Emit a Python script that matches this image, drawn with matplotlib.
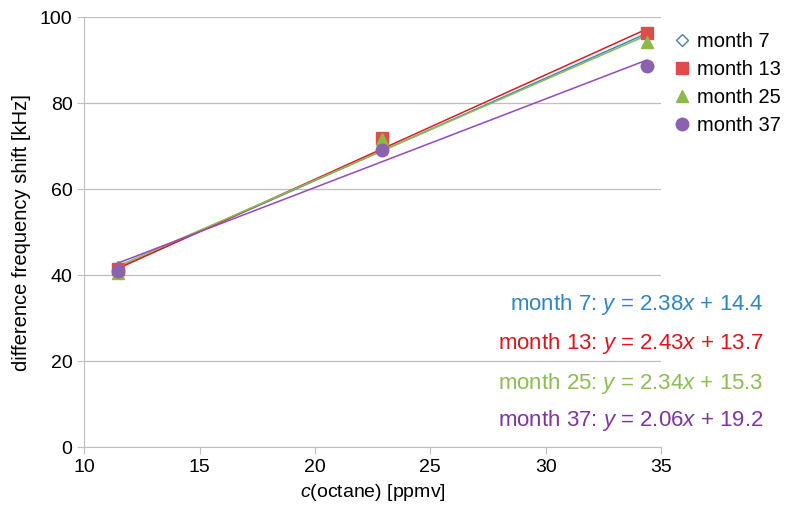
import numpy as np
import matplotlib
matplotlib.use("Agg")
from matplotlib import pyplot as plt

plt.rcParams['font.family'] = ['Liberation Sans', 'DejaVu Sans']
plt.rcParams['mathtext.fontset'] = 'custom'
plt.rcParams['mathtext.rm'] = 'Liberation Sans'
plt.rcParams['mathtext.it'] = 'Liberation Sans:italic'

conc = [11.46, 22.92, 34.38]
labels = ['month 7', 'month 13', 'month 25', 'month 37']
month7 = [41.8, 69.2, 95.9]
month13 = [41.4, 71.8, 96.3]
month25 = [40.5, 71.6, 94.3]
month37 = [41.0, 69.0, 88.6]
slopes = [2.38, 2.43, 2.34, 2.06]
intercepts = [14.4, 13.7, 15.3, 19.2]

marker_colors = ['#4A7EBB', '#E04B4B', '#8DB847', '#8A62AD']
line_colors = ['#3E86C6', '#E31A1C', '#8CBD4F', '#9448C0']
text_colors = ['#2E86C1', '#E0141B', '#8CBD4F', '#7E34A6']
markers = ['D', 's', '^', 'o']
sizes = [6, 8, 9, 9]

fig = plt.figure(figsize=(7.87, 5.2), dpi=100)
ax = fig.add_axes([0.107, 0.140, 0.733, 0.827])

series = [month7, month13, month25, month37]
for i in range(4):
    xs = np.array([min(conc), max(conc)])
    ax.plot(xs, slopes[i] * xs + intercepts[i], color=line_colors[i], lw=1.1, zorder=2)
for i in range(4):
    if i == 0:
        ax.plot(conc, series[i], ls='none', marker=markers[i], ms=sizes[i],
                mfc='white', mec=marker_colors[i], mew=1.0, label=labels[i], zorder=3)
    else:
        ax.plot(conc, series[i], ls='none', marker=markers[i], ms=sizes[i],
                color=marker_colors[i], mec=marker_colors[i], label=labels[i], zorder=3)

ax.set_xlim(10, 35)
ax.set_ylim(0, 100)
ax.set_xticks([10, 15, 20, 25, 30, 35])
ax.set_yticks([0, 20, 40, 60, 80, 100])
ax.yaxis.grid(True, color='#BFBFBF', lw=0.9)
ax.set_axisbelow(True)
for s in ['top', 'right']:
    ax.spines[s].set_visible(False)
for s in ['left', 'bottom']:
    ax.spines[s].set_color('#BFBFBF')
ax.tick_params(axis='both', colors='#BFBFBF', labelcolor='black', labelsize=14, length=5)
ax.set_xlabel('$c$(octane) [ppmv]', fontsize=14)
ax.set_ylabel('difference frequency shift [kHz]', fontsize=14.5, labelpad=6)

ax.legend(loc='upper left', bbox_to_anchor=(0.993, 0.998), frameon=False, fontsize=14.5,
          handletextpad=0.2, labelspacing=0.45, handlelength=1.1, borderaxespad=0.3)

ys = [0.415, 0.340, 0.263, 0.192]
for i in range(4):
    fig.text(0.970, ys[i],
             f'{labels[i]}: $\\mathit{{y}}$ = {slopes[i]:.2f}$\\mathit{{x}}$ + {intercepts[i]}',
             color=text_colors[i], fontsize=16, ha='right', va='center')

fig.savefig('out.png', dpi=100)
